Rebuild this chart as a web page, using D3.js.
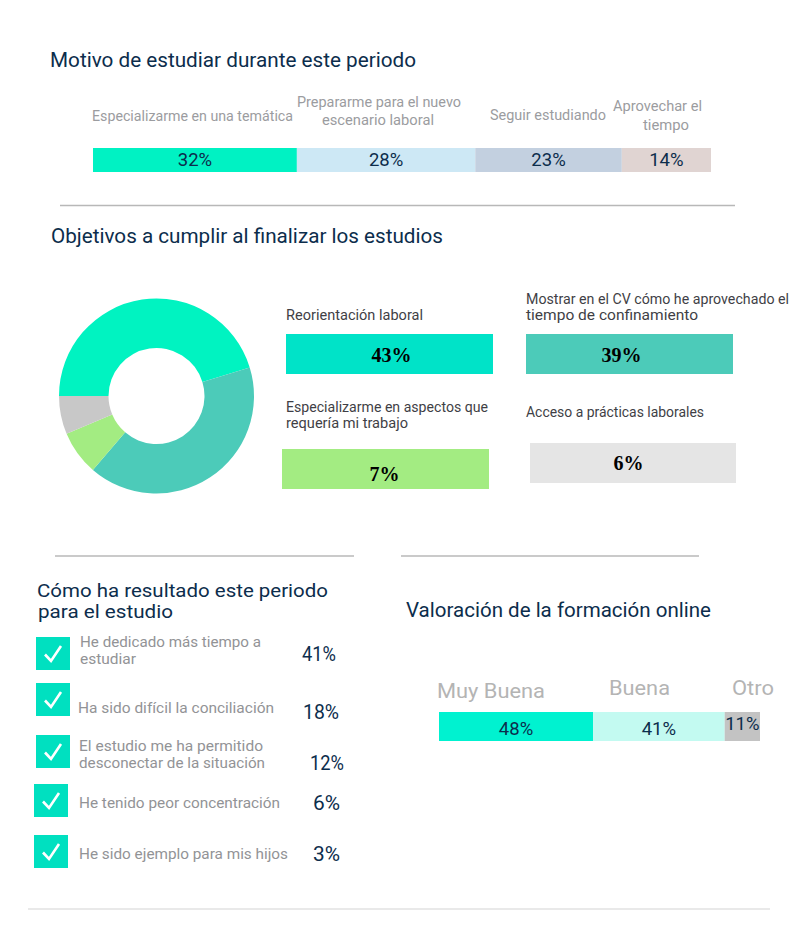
<!DOCTYPE html>
<html><head><meta charset="utf-8">
<script src="https://cdn.jsdelivr.net/npm/d3@7/dist/d3.min.js"></script>
<style>html,body{margin:0;padding:0;background:#fff}svg{display:block}</style>
</head><body><svg id="c" width="800" height="936"></svg>
<script>
const motivoLabels = ["Especializarme en una temática","Prepararme para el nuevo|escenario laboral","Seguir estudiando","Aprovechar el|tiempo"];
const motivoValues = [32,28,23,14];
const motivoColors = ["#00f2c3","#cde8f5","#c3d0e0","#e0d4d2"];
const objetivoLabels = ["Reorientación laboral","Mostrar en el CV cómo he aprovechado el|tiempo de confinamiento","Especializarme en aspectos que|requería mi trabajo","Acceso a prácticas laborales"];
const objetivoValues = [43,39,7,6];
const donutColors = ["#00f3c1","#4ccbb9","#a3ec82","#c8c8c8"];
const cardColors = ["#00e3c8","#4ccbb9","#a3ec82","#e5e5e5"];
const resultadoLabels = ["He dedicado más tiempo a|estudiar","Ha sido difícil la conciliación","El estudio me ha permitido|desconectar de la situación","He tenido peor concentración","He sido ejemplo para mis hijos"];
const resultadoValues = [41,18,12,6,3];
const valoracionLabels = ["Muy Buena","Buena","Otro"];
const valoracionValues = [48,41,11];
const valoracionColors = ["#00f2d0","#c3faf1","#c3c3c3"];

const FONT = "Roboto,'Noto Sans',sans-serif", NAVY="#0c2d4c";
const svg = d3.select("#c");
function txt(s,x,y,size,fill,w,anchor){
  const t = svg.append("text").attr("x",x).attr("y",y).attr("font-family",FONT).attr("font-size",size).attr("fill",fill).text(s);
  if(anchor) t.attr("text-anchor",anchor);
  if(w) t.attr("textLength",w).attr("lengthAdjust","spacingAndGlyphs");
  return t;
}
function multi(lines,lay,size,fill){
  const t = svg.append("text").attr("font-family",FONT).attr("font-size",size).attr("fill",fill);
  lines.forEach((s,j)=>t.append("tspan").attr("x",lay[j][0]).attr("y",lay[j][1])
    .attr("textLength",lay[j][2]).attr("lengthAdjust","spacingAndGlyphs").text(s));
  return t;
}
function rule(x1,x2,y,c){svg.append("line").attr("x1",x1).attr("x2",x2).attr("y1",y).attr("y2",y).attr("stroke",c).attr("stroke-width",1.5);}
function stack(vals){let a=0;return vals.map(v=>{const d={x0:a,x1:a+v,v};a+=v;return d;});}

// Section 1
txt("Motivo de estudiar durante este periodo",50,67,20.5,NAVY,366);
const x1 = d3.scaleLinear().domain([0,d3.sum(motivoValues)]).range([93,711]);
const st1 = stack(motivoValues);
svg.append("g").selectAll("rect").data(st1).join("rect")
  .attr("x",d=>x1(d.x0)).attr("width",d=>x1(d.x1)-x1(d.x0)).attr("y",148).attr("height",24)
  .attr("fill",(d,i)=>motivoColors[i]);
st1.forEach(d=>txt(d.v+"%",(x1(d.x0)+x1(d.x1))/2,166,18.5,NAVY,null,"middle"));
const mLay=[[[92,121,201]],[[297,107,164],[322,125,112]],[[490,120,116]],[[613,111,89],[643,130,46]]];
motivoLabels.forEach((l,i)=>multi(l.split("|"),mLay[i],14,"#9b9ca0"));
rule(60,735,205.5,"#b8b8b8");

// Section 2
txt("Objetivos a cumplir al finalizar los estudios",51,243,20.5,NAVY,392);
const pie = d3.pie().sort(null).startAngle(-Math.PI/2).endAngle(1.5*Math.PI);
const arc = d3.arc().innerRadius(48).outerRadius(97.5);
svg.append("g").attr("transform","translate(156.5,396)").selectAll("path").data(pie(objetivoValues)).join("path")
  .attr("d",arc).attr("fill",(d,i)=>donutColors[i]);
const cards=[[286,334,207],[526,334,207],[282,449,207],[530,443,206]], pctX=[391.5,621.5,384.5,628.5], pctY=[362,362,481,470];
const cLay=[[[286,320,137]],[[526,304,263],[526,320,172]],[[286,412,202],[286,428,122]],[[526,417,178]]];
svg.append("g").selectAll("rect").data(objetivoValues).join("rect")
  .attr("x",(d,i)=>cards[i][0]).attr("y",(d,i)=>cards[i][1]).attr("width",(d,i)=>cards[i][2]).attr("height",40)
  .attr("fill",(d,i)=>cardColors[i]);
objetivoValues.forEach((v,i)=>{
  txt(v+"%",pctX[i],pctY[i],20,"#000",null,"middle").attr("font-family","'Liberation Serif',serif").attr("font-weight","bold");
  multi(objetivoLabels[i].split("|"),cLay[i],14,"#3f3f46");
});
rule(55,354,556,"#b8b8b8"); rule(401,699,556,"#b8b8b8");

// Section 3
multi(["Cómo ha resultado este periodo","para el estudio"],[[37,596.5,291],[38,617.5,135]],19,NAVY);
const boxes=[[36,637],[36,683],[36,735],[34,784],[34,835]];
const rLay=[[[80,646.5,181],[80,663.5,56]],[[78,713,196]],[[79,750.5,184],[79,767.5,186]],[[79,808,201]],[[79,859,209]]];
const pLay=[[302,661,34],[303,719,36],[310,769.5,34],[313,810,27],[313,861,27]];
resultadoValues.forEach((v,i)=>{
  const [bx,by]=boxes[i];
  svg.append("rect").attr("x",bx).attr("y",by).attr("width",34).attr("height",33).attr("fill","#00e0c0");
  svg.append("path").attr("d",d3.line()([[bx+9,by+17.5],[bx+15,by+24],[bx+25,by+9]])).attr("fill","none").attr("stroke","#fff").attr("stroke-width",2.6);
  multi(resultadoLabels[i].split("|"),rLay[i],14.5,"#929396");
  txt(v+"%",pLay[i][0],pLay[i][1],20,NAVY,pLay[i][2]);
});

// Section 4
txt("Valoración de la formación online",406,617,20.5,NAVY,305);
const x2 = d3.scaleLinear().domain([0,d3.sum(valoracionValues)]).range([439,760]);
const st2 = stack(valoracionValues);
svg.append("g").selectAll("rect").data(st2).join("rect")
  .attr("x",d=>x2(d.x0)).attr("width",d=>x2(d.x1)-x2(d.x0)).attr("y",712).attr("height",29)
  .attr("fill",(d,i)=>valoracionColors[i]);
const vY=[735,735,730];
st2.forEach((d,i)=>txt(d.v+"%",(x2(d.x0)+x2(d.x1))/2,vY[i],18.5,NAVY,null,"middle"));
const lLay=[[437,698,108],[609,695,61],[732,695,42]];
valoracionLabels.forEach((l,i)=>txt(l,lLay[i][0],lLay[i][1],21,"#b4b4b4",lLay[i][2]));
rule(28,770,909,"#e2e2e2");
</script></body></html>
